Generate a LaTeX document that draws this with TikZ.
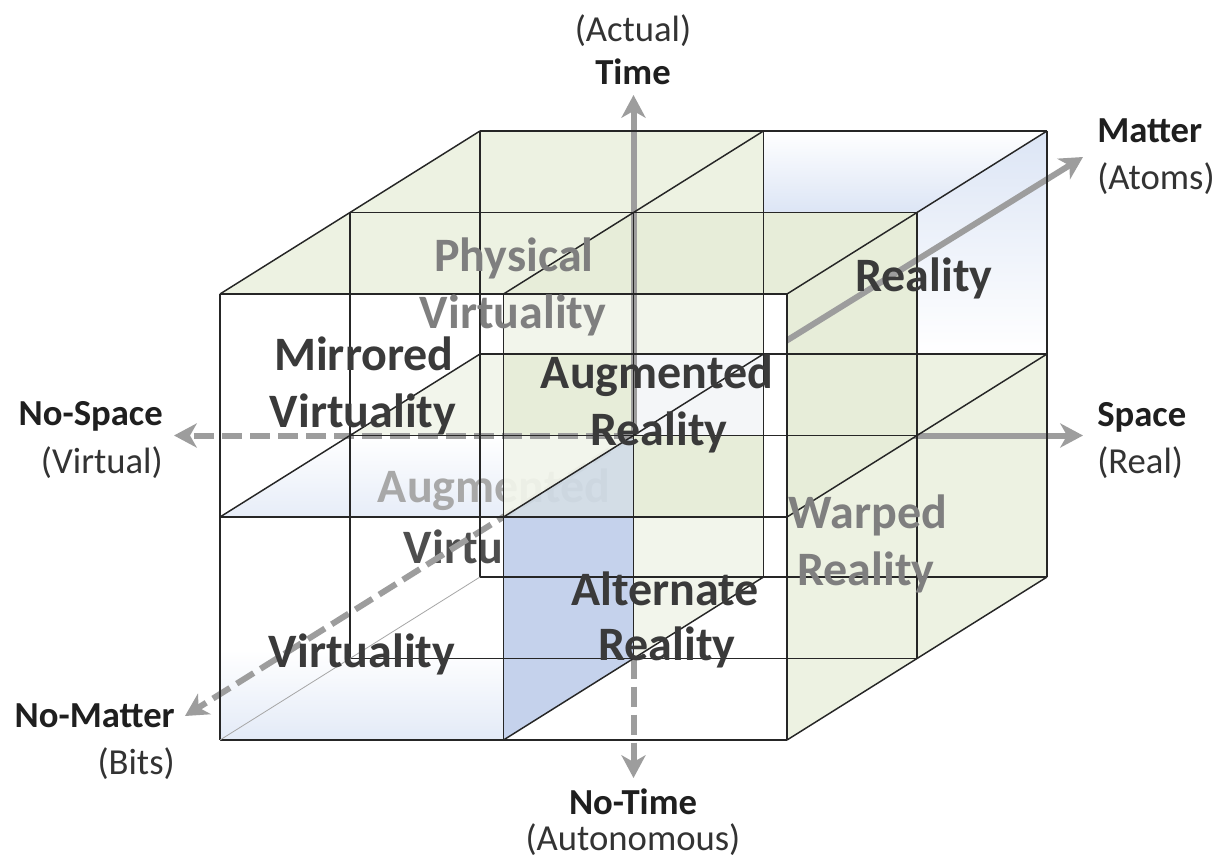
\documentclass[tikz,border=0pt]{standalone}
\usepackage{fontspec}
\setmainfont{Carlito}
\usetikzlibrary{arrows.meta}
\definecolor{gA}{HTML}{EDF2E2}
\definecolor{gB}{HTML}{E7EDD9}
\definecolor{gC}{HTML}{F2F5EB}
\definecolor{bA}{HTML}{C5D2EC}
\definecolor{bG}{HTML}{D0DBE5}
\definecolor{bL}{HTML}{DCE5F5}
\definecolor{wB}{HTML}{F4F6F8}
\definecolor{axc}{HTML}{9D9D9D}
\definecolor{dk}{HTML}{3A3A3A}
\definecolor{md}{HTML}{7F7F7F}
\definecolor{lt}{HTML}{A8A8A8}
\definecolor{edgec}{HTML}{262626}
\begin{document}
\begin{tikzpicture}[x=0.75pt,y=-0.75pt,
  edge/.style={draw=edgec,line width=1.1pt},
  faint/.style={draw=black!35,line width=0.6pt},
  axis/.style={draw=axc,line width=4.5pt,-{Stealth[length=17pt,width=18pt,inset=5pt]}},
  axdash/.style={axis,dash pattern=on 15pt off 6pt},
  cl/.style={font=\fontsize{36}{36}\selectfont\bfseries,anchor=base,inner sep=0pt},
  axb/.style={font=\fontsize{27.5}{27.5}\selectfont\bfseries,anchor=base,inner sep=0pt,text=black!88},
  axr/.style={font=\fontsize{27.5}{27.5}\selectfont,anchor=base,inner sep=0pt,text=black!80}]
\useasboundingbox (0,0) rectangle (1217,863);
\fill[white] (0,0) rectangle (1217,863);
% lattice points p<i><j><k>: i = left->right, j = top->bottom, k = front->back
\foreach \i in {0,1,2}{\foreach \j in {0,1,2}{\foreach \k in {0,1,2}{
  \coordinate (p\i\j\k) at ({220+283.5*\i+130*\k},{294+223*\j-81.5*\k});}}}
\coordinate (ctr) at (p111);
\coordinate (tUp) at (633.5,95);
\coordinate (tDn) at (633.5,778);
\coordinate (sR) at (1083,435.5);
\coordinate (sL) at (174,435.5);
\coordinate (mUp) at (1083,157);
\coordinate (mDn) at (185,716);
% base and back/side fills
\fill[white] (p000) -- (p002) -- (p202) -- (p222) -- (p220) -- (p020) -- cycle;
\fill[gA] (p000) -- (p200) -- (p202) -- (p002) -- cycle;
\fill[gB] (p100) -- (p101) -- (p201) -- (p200) -- cycle;
\shade[top color=white,bottom color=bL] (p102) -- (p202) -- (p201) -- (p102 |- p201) -- cycle;
\fill[gA] (p201) -- (p202) -- (p212) -- (p211) -- cycle;
\shade[top color=bL,bottom color=white] (p201) -- (p202) -- (p212) -- (p201 |- p212) -- cycle;
\fill[gA] (p210) -- (p212) -- (p222) -- (p220) -- cycle;
% front-left fills
\shade[top color=white,bottom color=bL!70] (p011) -- (p110 |- p011) -- (p110) -- (p010) -- cycle;
\fill[gC] (p011) -- (p012) -- (p110 |- p012) -- (p110 |- p011) -- cycle;
\shade[top color=white,bottom color=bL!80] (220,650) rectangle (503.5,740);
% partly hidden label
\node[cl,text=lt] (av1) at (494,502) {Augmented};
\node[cl,text=dk!90] (av2) at (497,563) {Virtuality};
% hidden part of space axis
\draw[axis] (ctr) -- (sR);
\fill[gB] (p200) -- (p201) -- (p211) -- (p210) -- cycle;
\draw[axis] (ctr) -- (mUp);
\draw[axdash] (ctr) -- (mDn);
% front-right fills
\fill[gC] (p100) rectangle (763,354);
\fill[gB] (503.5,354) rectangle (633.5,435.5);
\fill[wB] (633.5,354) rectangle (763,435.5);
\fill[white] (763,294) rectangle (787,740);
\fill[gC,opacity=.93] (p110 |- p111) -- (p111) -- (p110) -- cycle;
\fill[bG,opacity=.93] (p110) -- (p111) -- (p111 |- p110) -- cycle;
\fill[gB] (p111) rectangle (763,517);
\fill[bA] (p110) -- (p111 |- p110) -- (p121) -- (p120) -- cycle;
\fill[gC] (p111 |- p110) rectangle (763,577);
\fill[gC] (633.5,577) -- (763,577) -- (p121) -- cycle;
% visible axes
\draw[axis] (ctr) -- (tUp);
\draw[axdash] (p121) -- (tDn);
\draw[axdash] (ctr) -- (sL);
% edges
\foreach \a in {0,1,2}{\foreach \b in {0,1,2}{
  \draw[edge] (p0\a\b) -- (p2\a\b);
  \draw[edge] (p\a0\b) -- (p\a2\b);}}
\foreach \a/\b in {0/0,1/0,2/0,0/1,1/1,2/1,1/2,2/2}{\draw[edge] (p\a\b0) -- (p\a\b2);}
\draw[faint] (p020) -- (p022);
% cube labels
\node[cl,text=md] (pv1) at (514,271) {Physical};
\node[cl,text=md] (pv2) at (513,328) {Virtuality};
\node[cl,text=dk] (mv1) at (364,370) {Mirrored};
\node[cl,text=dk] (mv2) at (363,427) {Virtuality};
\node[cl,text=dk] (ar1) at (657,388) {Augmented};
\node[cl,text=dk] (ar2) at (659,445) {Reality};
\node[cl,text=dk] (re) at (924,291) {Reality};
\node[cl,text=dk] (vi) at (362,667) {Virtuality};
\node[cl,text=dk] (al1) at (665,605) {Alternate};
\node[cl,text=dk] (al2) at (667,660) {Reality};
\node[cl,text=md] (wr1) at (868,528) {Warped};
\node[cl,text=md] (wr2) at (866,585) {Reality};
% axis labels
\node[axr] (t2) at (633,42) {(Actual)};
\node[axb] (t1) at (633,85) {Time};
\node[axb,anchor=base west] (m1) at (1097,143) {Matter};
\node[axr,anchor=base west] (m2) at (1097,190) {(Atoms)};
\node[axb,anchor=base west] (s1) at (1097,426) {Space};
\node[axr,anchor=base west] (s2) at (1097,473) {(Real)};
\node[axb,anchor=base east] (ns1) at (163,425) {No-Space};
\node[axr,anchor=base east] (ns2) at (163,473) {(Virtual)};
\node[axb,anchor=base east] (nm1) at (175,727) {No-Matter};
\node[axr,anchor=base east] (nm2) at (175,774) {(Bits)};
\node[axb] (nt1) at (633,814) {No-Time};
\node[axr] (nt2) at (633,850) {(Autonomous)};
\end{tikzpicture}
\end{document}
